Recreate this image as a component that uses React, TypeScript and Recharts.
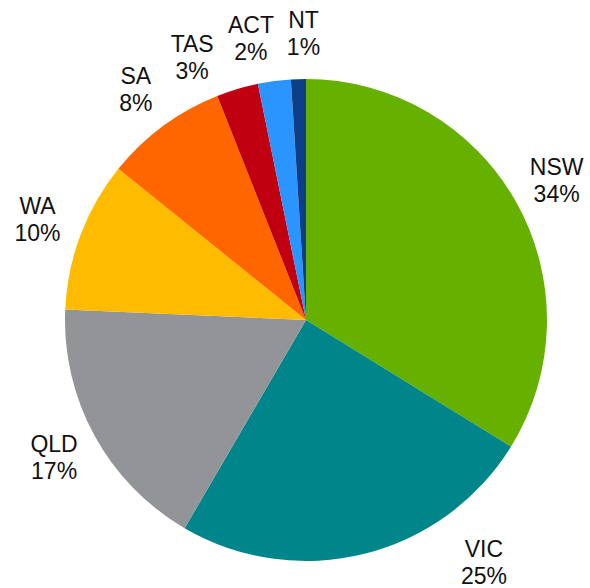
import { Cell, Pie, PieChart } from 'recharts'

const states = ['NSW', 'VIC', 'QLD', 'WA', 'SA', 'TAS', 'ACT', 'NT']
const shares = [33.8, 24.6, 17.3, 10.1, 8.2, 2.8, 2.2, 1.0]
const colors = ['#66b100', '#00858a', '#929497', '#ffbb00', '#ff6600', '#c00010', '#2b95ff', '#0c3f87']

const W = 590
const H = 588
const CX = 306
const CY = 320
const RADIUS = 241
const FONT = 23
const LINE = 27
const GAP = 12
const RAD = Math.PI / 180
const FONT_FAMILY = "'Liberation Sans', Arial, sans-serif"

const data = states.map((name, i) => ({ name, value: shares[i] }))

function textWidth(s: string): number {
  const ctx = document.createElement('canvas').getContext('2d')
  if (!ctx) return s.length * FONT * 0.6
  ctx.font = `${FONT}px "Liberation Sans"`
  return ctx.measureText(s).width
}

type LabelPos = { angle: number; w: number; x: number; y: number }

// labels sit round the pie; crowded neighbours get nudged apart along the circle
function layoutLabels(): LabelPos[] {
  const total = shares.reduce((a, b) => a + b, 0)
  const r = RADIUS + 46
  let acc = 0
  const items: LabelPos[] = shares.map((v, i) => {
    const angle = 90 - ((acc + v / 2) / total) * 360
    acc += v
    const w = Math.max(textWidth(states[i]), textWidth(`${Math.round(v)}%`))
    return { angle, w, x: 0, y: 0 }
  })
  const place = (it: LabelPos) => {
    it.x = CX + r * Math.cos(-it.angle * RAD)
    it.y = CY + r * Math.sin(-it.angle * RAD)
  }
  const clash = (a: LabelPos, b: LabelPos) =>
    Math.abs(a.x - b.x) < (a.w + b.w) / 2 + GAP && Math.abs(a.y - b.y) < LINE * 2
  items.forEach(place)
  for (let pass = 0; pass < 400; pass++) {
    let moved = false
    for (let i = 0; i < items.length - 1; i++) {
      const a = items[i]
      const b = items[i + 1]
      if (clash(a, b)) {
        a.angle += 0.4
        b.angle -= 0.1
        place(a)
        place(b)
        moved = true
      }
    }
    if (!moved) break
  }
  // keep labels on the page: slide along the rim if they fall off the bottom
  const maxY = H - LINE + 1
  items.forEach((it) => {
    if (it.y > maxY) {
      const side = it.x >= CX ? 1 : -1
      it.y = maxY
      const dy = it.y - LINE - CY
      const rr = RADIUS + 24
      it.x = CX + side * (Math.sqrt(Math.max(rr * rr - dy * dy, 0)) + it.w / 2)
    }
  })
  return items
}

export default function App() {
  const pos = layoutLabels()

  const renderLabel = (props: any) => {
    const { index, name, value } = props
    const { x, y } = pos[index]
    return (
      <text x={x} y={y} textAnchor="middle" fill="#111" fontSize={FONT} fontFamily={FONT_FAMILY}>
        <tspan x={x} y={y - 5}>
          {name}
        </tspan>
        <tspan x={x} y={y + 22}>
          {Math.round(value)}%
        </tspan>
      </text>
    )
  }

  return (
    <div style={{ position: 'absolute', left: 0, top: 0, width: W, height: H, background: '#fff' }}>
      <PieChart width={W} height={H} margin={{ top: 0, right: 0, bottom: 0, left: 0 }}>
        <Pie
          data={data}
          dataKey="value"
          nameKey="name"
          cx={CX}
          cy={CY}
          outerRadius={RADIUS}
          startAngle={90}
          endAngle={-270}
          stroke="none"
          label={renderLabel}
          labelLine={false}
          isAnimationActive={false}
        >
          {data.map((d, i) => (
            <Cell key={d.name} fill={colors[i]} />
          ))}
        </Pie>
      </PieChart>
    </div>
  )
}
